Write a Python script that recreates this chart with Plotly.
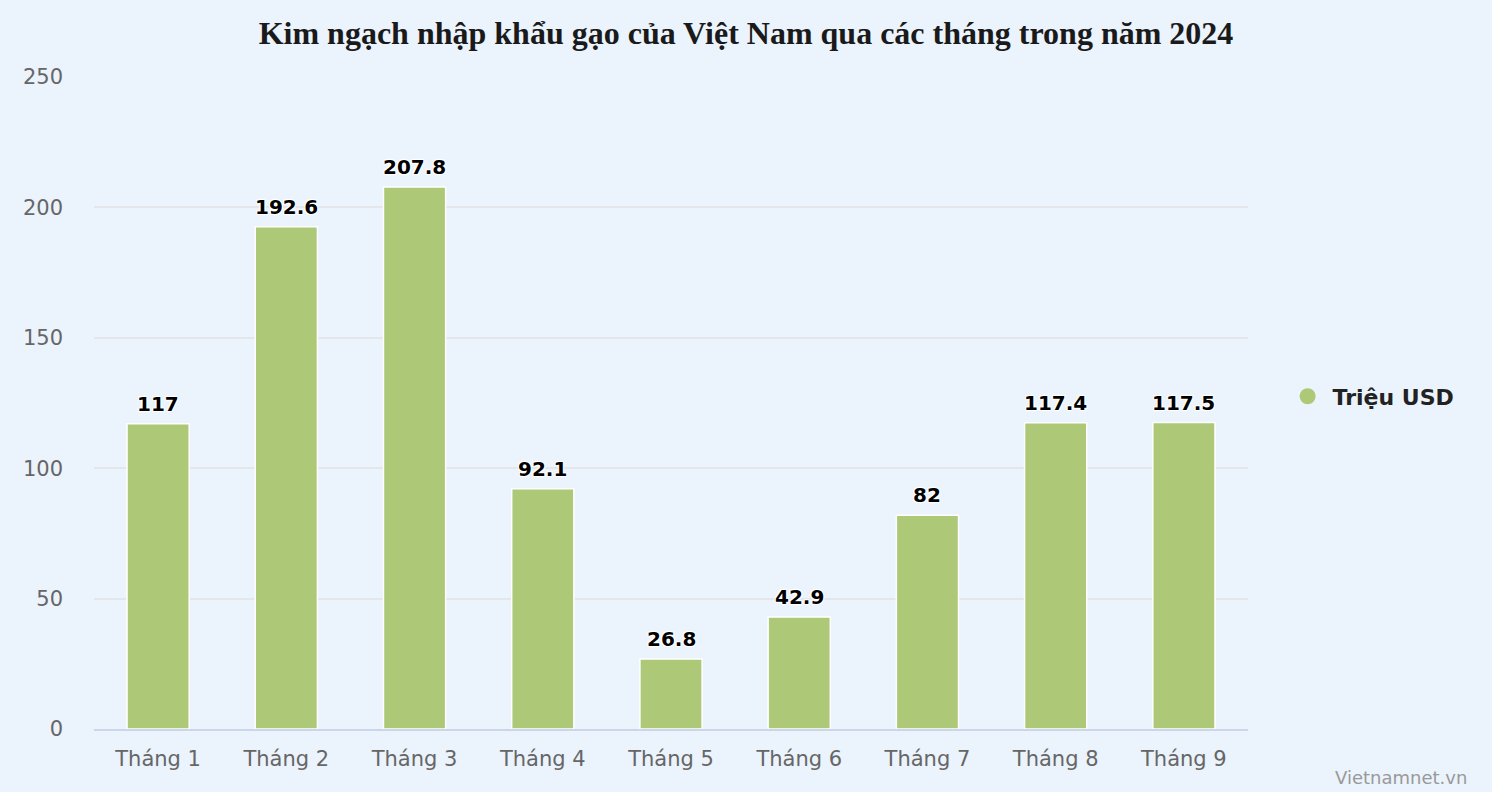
import plotly.graph_objects as go

months = ["Tháng 1", "Tháng 2", "Tháng 3", "Tháng 4", "Tháng 5", "Tháng 6", "Tháng 7", "Tháng 8", "Tháng 9"]
values = [117, 192.6, 207.8, 92.1, 26.8, 42.9, 82, 117.4, 117.5]
labels = ["117", "192.6", "207.8", "92.1", "26.8", "42.9", "82", "117.4", "117.5"]
y_ticks = [0, 50, 100, 150, 200, 250]

BG = "#EBF3FD"
BAR = "#ADC978"
fig = go.Figure()
fig.add_trace(go.Bar(
    x=months, y=values, name="Triệu USD",
    marker=dict(color=BAR, line=dict(color="white", width=1.5)),
    showlegend=False,
))
# legend marker as circle
fig.add_trace(go.Scatter(x=[None], y=[None], mode="markers", name="Triệu USD",
                         marker=dict(color=BAR, size=22, symbol="circle"), showlegend=True))

label_shadow = "1px 1px 1px white, -1px -1px 1px white, 1px -1px 1px white, -1px 1px 1px white"
annotations = [
    dict(x=m, y=v, text=t, xref="x", yref="y", showarrow=False, yanchor="bottom", yshift=6,
         font=dict(family="DejaVu Sans", size=20, color="#000000", weight="bold", shadow=label_shadow))
    for m, v, t in zip(months, values, labels)
]
annotations.append(dict(text="Vietnamnet.vn", xref="paper", yref="paper", x=1.1915, y=-0.075,
                        xanchor="right", yanchor="middle", showarrow=False,
                        font=dict(family="DejaVu Sans", size=18, color="#999999")))

fig.update_layout(
    width=1492, height=792,
    paper_bgcolor=BG, plot_bgcolor=BG,
    margin=dict(l=94, r=244, t=77, b=63),
    bargap=0.515,
    title=dict(text="<b>Kim ngạch nhập khẩu gạo của Việt Nam qua các tháng trong năm 2024</b>",
               x=0.5, xanchor="center", y=0.958, yanchor="middle",
               font=dict(family="Liberation Serif", size=32, color="#1a1a1a")),
    legend=dict(x=1.03, y=0.51, xanchor="left", yanchor="middle",
                font=dict(family="DejaVu Sans", size=22, color="#222222", weight="bold"),
                bgcolor="rgba(0,0,0,0)", itemsizing="trace", itemwidth=40),
    xaxis=dict(showgrid=False, showline=True, linecolor="#CCD6EB", linewidth=1.5,
               ticks="", tickfont=dict(family="DejaVu Sans", size=21, color="#666666"),
               ticklabelstandoff=10),
    yaxis=dict(range=[0, 250], tickvals=y_ticks, showgrid=True, gridcolor="#E3E6EA", gridwidth=1.5,
               zeroline=False, tickfont=dict(family="DejaVu Sans", size=21, color="#666666"),
               ticklabelstandoff=30),
    annotations=annotations,
)
fig.write_html("out.html", config={"displayModeBar": False},
               post_script="document.body.style.margin='0';document.body.style.background='" + BG + "';")
